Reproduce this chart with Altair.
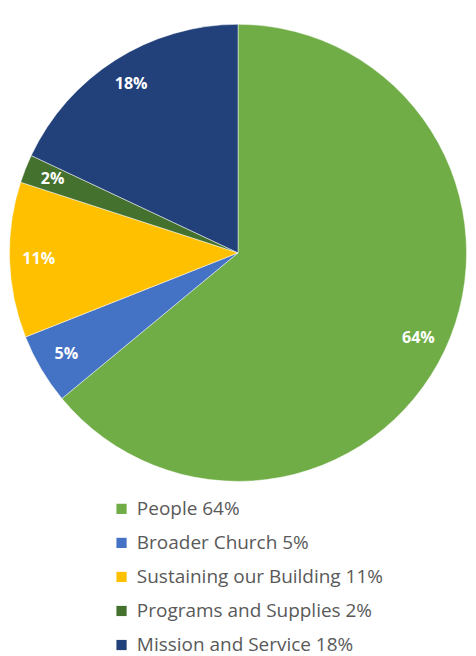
import altair as alt
import pandas as pd

categories = ["People", "Broader Church", "Sustaining our Building", "Programs and Supplies", "Mission and Service"]
values = [64, 5, 11, 2, 18]
colors = ["#70AD47", "#4472C4", "#FFC000", "#44722E", "#22407A"]

df = pd.DataFrame({
    "cat": categories,
    "value": values,
    "idx": list(range(len(categories))),
})
df["legend"] = [f"{c} {v}%" for c, v in zip(categories, values)]
df["pct"] = [f"{v}%" for v in values]
legend_labels = list(df["legend"])

base = alt.Chart(df).encode(
    theta=alt.Theta("value:Q", stack=True),
    order=alt.Order("idx:Q"),
)

arcs = base.mark_arc(radius=235, stroke="white", strokeWidth=0.5).encode(
    color=alt.Color(
        "legend:N",
        scale=alt.Scale(domain=legend_labels, range=colors),
        sort=legend_labels,
        legend=alt.Legend(
            title=None,
            orient="none",
            legendX=104,
            legendY=496,
            symbolType="square",
            symbolSize=110,
            symbolStrokeWidth=0,
            labelFont="Open Sans",
            labelFontSize=19.5,
            labelColor="#595959",
            labelLimit=0,
            rowPadding=14,
            labelOffset=6,
        ),
    )
)

labels = base.mark_text(
    radius=205, color="white", fontWeight="bold", font="Open Sans", fontSize=16.5
).encode(text="pct:N")

chart = (arcs + labels).properties(
    width=467, height=485, padding=0
).configure_view(stroke=None)

chart.save("out.html", embed_options={"renderer": "svg", "actions": False})
